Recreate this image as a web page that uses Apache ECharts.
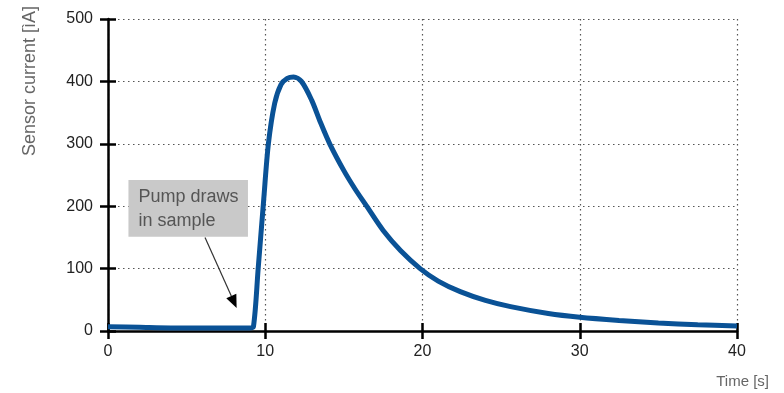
<!DOCTYPE html>
<html>
<head>
<meta charset="utf-8">
<script src="https://cdn.jsdelivr.net/npm/echarts@6/dist/echarts.min.js"></script>
<style>html,body{margin:0;padding:0;background:#fff}#c{width:784px;height:393px}</style>
</head>
<body>
<div id="c"></div>
<script>
var times    = [0, 2, 4, 6, 8, 9, 9.25, 9.55, 9.9, 10.2, 10.6, 11.0, 11.4, 11.8, 12.3, 12.95, 13.5, 14.1, 15.0, 15.7, 16.45, 17.5, 18.6, 19.85, 21.0, 22.4, 24.0, 25.6, 28.0, 30.0, 32.5, 35.0, 37.5, 40.0];
var currents = [7, 6, 5, 5, 5, 5, 7, 100, 210, 300, 365, 395, 405, 407, 400, 370, 335, 300, 257, 228, 200, 161, 129, 100, 80, 63, 49, 39, 28, 22, 17, 13, 10, 8];
var xTicks = [0, 10, 20, 30, 40];
var yTicks = [0, 100, 200, 300, 400, 500];
var yName = 'Sensor current [ìA]';
var xName = 'Time [s]';
var noteText = 'Pump draws\nin sample';

var chart = echarts.init(document.getElementById('c'));
var font = '"Liberation Sans", Arial, sans-serif';
var pts = times.map(function (t, i) { return [t, currents[i]]; });
chart.setOption({
  animation: false,
  grid: { left: 108, right: 47, top: 19, bottom: 62 },
  xAxis: [{
    type: 'value', min: xTicks[0], max: xTicks[xTicks.length - 1], interval: 10,
    axisLine: { show: true, lineStyle: { color: '#000', width: 2.5 } },
    axisTick: { show: true, length: 8, lineStyle: { color: '#000', width: 2.5 } },
    axisLabel: { color: '#222', fontSize: 16, fontFamily: font, margin: 13 },
    splitLine: { show: true, lineStyle: { color: '#555', type: [1.5, 3.5], width: 1.2 } }
  }, {
    type: 'value', min: xTicks[0], max: xTicks[xTicks.length - 1], interval: 10, position: 'bottom',
    axisLine: { show: false }, axisLabel: { show: false }, splitLine: { show: false },
    axisTick: { show: true, inside: true, length: 8, lineStyle: { color: '#000', width: 2.5 } }
  }],
  yAxis: [{
    type: 'value', min: yTicks[0], max: yTicks[yTicks.length - 1], interval: 100,
    axisLine: { show: true, lineStyle: { color: '#000', width: 2.5 } },
    axisTick: { show: true, length: 8, lineStyle: { color: '#000', width: 2.5 } },
    axisLabel: { color: '#222', fontSize: 16, fontFamily: font, margin: 15 },
    splitLine: { show: true, lineStyle: { color: '#555', type: [1.5, 3.5], width: 1.2 } }
  }, {
    type: 'value', min: yTicks[0], max: yTicks[yTicks.length - 1], interval: 100, position: 'left',
    axisLine: { show: false }, axisLabel: { show: false }, splitLine: { show: false },
    axisTick: { show: true, inside: true, length: 8, lineStyle: { color: '#000', width: 2.5 } }
  }],
  series: [{
    type: 'line', data: pts, smooth: 0.3, showSymbol: false, symbol: 'none',
    lineStyle: { color: '#0a5296', width: 5 }, z: 1
  }]
});

function px(t, v) { return chart.convertToPixel({ xAxisIndex: 0, yAxisIndex: 0 }, [t, v]); }
var b0 = px(1.3, 242), b1 = px(8.9, 151);
var a0 = px(6.17, 150), a1 = px(8.18, 37);
var ang = Math.atan2(a1[1] - a0[1], a1[0] - a0[0]);
var hl = 13, hw = 5.5;
var bx = a1[0] - hl * Math.cos(ang), by = a1[1] - hl * Math.sin(ang);
var head = [a1,
  [bx + hw * Math.sin(ang), by - hw * Math.cos(ang)],
  [bx - hw * Math.sin(ang), by + hw * Math.cos(ang)]];
chart.setOption({
  graphic: [
    { type: 'rect', shape: { x: b0[0], y: b0[1], width: b1[0] - b0[0], height: b1[1] - b0[1] },
      style: { fill: '#c9c9c9' }, z: 10 },
    { type: 'text', x: b0[0] + 10, y: b0[1] + 5,
      style: { text: noteText, fill: '#555', fontSize: 18, fontFamily: font, lineHeight: 24 }, z: 11 },
    { type: 'line', shape: { x1: a0[0], y1: a0[1], x2: bx, y2: by },
      style: { stroke: '#333', lineWidth: 1.2 }, z: 10 },
    { type: 'polygon', shape: { points: head }, style: { fill: '#000' }, z: 10 },
    { type: 'text', x: 30, y: 81, rotation: Math.PI / 2,
      style: { text: yName, fill: '#666', fontSize: 18, fontFamily: font, align: 'center', verticalAlign: 'middle' }, z: 11 },
    { type: 'text', x: 769, y: 382,
      style: { text: xName, fill: '#666', fontSize: 15, fontFamily: font, align: 'right', verticalAlign: 'middle' }, z: 11 }
  ]
});
</script>
</body>
</html>
